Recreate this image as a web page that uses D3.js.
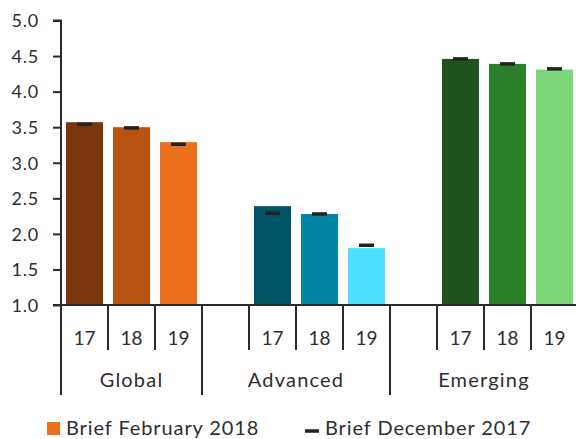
<!DOCTYPE html>
<html><head><meta charset="utf-8">
<script src="https://cdn.jsdelivr.net/npm/d3@7"></script>
<style>html,body{margin:0;padding:0;background:#fff}svg{display:block}text{font-family:Lato,"Open Sans",sans-serif;fill:#2e2e2e;font-weight:400}</style>
</head><body><svg id="c" width="576" height="439"></svg>
<script>
const groups = ["Global", "Advanced", "Emerging"];
const years = ["17", "18", "19"];
const feb2018 = {Global: [3.57, 3.50, 3.29], Advanced: [2.39, 2.28, 1.80], Emerging: [4.46, 4.39, 4.31]};
const dec2017 = {Global: [3.54, 3.49, 3.26], Advanced: [2.29, 2.28, 1.84], Emerging: [4.46, 4.39, 4.32]};
const colors = {Global: ["#7a350d", "#b85311", "#ed701e"], Advanced: ["#025565", "#0285a3", "#4de1ff"], Emerging: ["#1e531d", "#2c7f29", "#7dd77a"]};
const yTicks = [1.0, 1.5, 2.0, 2.5, 3.0, 3.5, 4.0, 4.5, 5.0];
const legendLabels = ["Brief February 2018", "Brief December 2017"];

// slots: Global has 3 slots, the others have a leading empty slot
const slots = [];
groups.forEach((g, gi) => {
  if (gi > 0) slots.push({group: g, key: g + "_gap", year: ""});
  years.forEach((yr, i) => slots.push({group: g, key: g + "_" + yr, year: yr, i}));
});

const svg = d3.select("#c");
const x = d3.scaleBand().domain(slots.map(s => s.key)).range([61, 61 + 47 * slots.length]).paddingInner(10/47).paddingOuter(5/47);
const y = d3.scaleLinear().domain([1, 5]).range([305, 20.5]);
const step = x.step();
const left = 61;
const ink = "#2b2b2b";

// bars
const barData = slots.filter(s => s.year !== "");
svg.append("g").selectAll("rect").data(barData).join("rect")
  .attr("x", d => x(d.key)).attr("width", x.bandwidth())
  .attr("y", d => y(feb2018[d.group][d.i]))
  .attr("height", d => y(1) - y(feb2018[d.group][d.i]))
  .attr("fill", d => colors[d.group][d.i]);

// markers
svg.append("g").selectAll("line").data(barData).join("line")
  .attr("x1", d => x(d.key) + x.bandwidth()/2 - 7.5)
  .attr("x2", d => x(d.key) + x.bandwidth()/2 + 7.5)
  .attr("y1", d => y(dec2017[d.group][d.i])).attr("y2", d => y(dec2017[d.group][d.i]))
  .attr("stroke", "#222").attr("stroke-width", 3.5);

// y axis
const yAxis = d3.axisLeft(y).tickValues(yTicks).tickFormat(d3.format(".1f")).tickSize(8).tickPadding(14);
const gy = svg.append("g").attr("transform", `translate(${left},0)`).call(yAxis);
gy.select(".domain").attr("d", `M-8,${y(5)}H0V${y(1)}`).attr("stroke", ink).attr("stroke-width", 2);
gy.selectAll(".tick line").attr("stroke", ink).attr("stroke-width", 2);
gy.selectAll(".tick text").style("font-size", "18px").style("letter-spacing", "0.8px").attr("fill", "#2e2e2e").attr("dy", "0.35em");

// x axis line
svg.append("line").attr("x1", 53).attr("x2", 576).attr("y1", y(1)).attr("y2", y(1)).attr("stroke", ink).attr("stroke-width", 2);

// boundaries
const bounds = slots.map(s => x(s.key) - x.paddingOuter() * step);
bounds.forEach((bx, k) => {
  const s = slots[k];
  const isGroupStart = (k === 0) || (s.year === "");
  svg.append("line").attr("x1", bx).attr("x2", bx).attr("y1", y(1)).attr("y2", isGroupStart ? 395 : 350)
    .attr("stroke", ink).attr("stroke-width", 2);
});

// year labels
svg.append("g").selectAll("text").data(barData).join("text")
  .attr("x", d => x(d.key) + x.bandwidth()/2).attr("y", 338).attr("dy", "0.35em")
  .attr("text-anchor", "middle").style("font-size", "19px").text(d => d.year);

// group labels
groups.forEach((g, gi) => {
  const gs = slots.filter(s => s.group === g);
  const x0 = x(gs[0].key) - x.paddingOuter() * step;
  const x1 = x(gs[gs.length - 1].key) - x.paddingOuter() * step + step;
  svg.append("text").attr("x", (x0 + x1) / 2).attr("y", 380).attr("dy", "0.35em")
    .attr("text-anchor", "middle").style("font-size", "20px").style("letter-spacing", "1.2px").text(g);
});

// legend
const lg = svg.append("g");
lg.append("rect").attr("x", 47).attr("y", 422).attr("width", 13).attr("height", 13).attr("fill", colors.Global[2]);
lg.append("text").attr("x", 66).attr("y", 435).style("font-size", "20px").style("letter-spacing", "0.9px").text(legendLabels[0]);
lg.append("line").attr("x1", 305).attr("x2", 319).attr("y1", 431).attr("y2", 431).attr("stroke", "#222").attr("stroke-width", 3.5);
lg.append("text").attr("x", 325).attr("y", 435).style("font-size", "20px").style("letter-spacing", "0.9px").text(legendLabels[1]);
</script></body></html>
